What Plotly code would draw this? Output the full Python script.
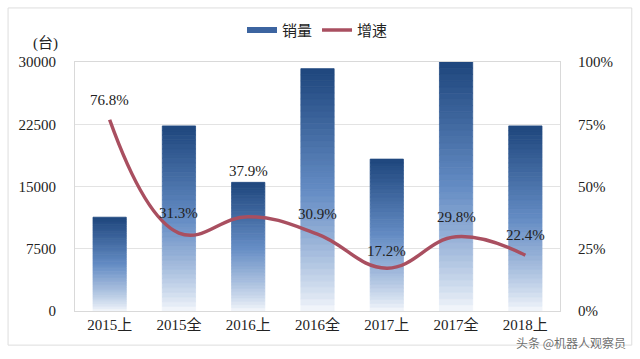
import plotly.graph_objects as go

categories = ["2015上", "2015全", "2016上", "2016全", "2017上", "2017全", "2018上"]
sales = [11300, 22300, 15500, 29200, 18300, 30000, 22300]
growth = [76.8, 31.3, 37.9, 30.9, 17.2, 29.8, 22.4]
left_ticks = [0, 7500, 15000, 22500, 30000]
left_tick_labels = ["0", "7500", "15000", "22500", "30000"]
right_ticks = [0, 25, 50, 75, 100]
right_tick_labels = ["0%", "25%", "50%", "75%", "100%"]

# style: vertical pixel offset of each growth label above its point
label_shift = [20, 20, 46, 20, 17, 20, 20]

FONT = "Liberation Serif, Times New Roman, Noto Sans CJK SC, serif"

fig = go.Figure()

# gradient bars: stack thin segments, dark at top -> light at bottom
N = 40
top_rgb = (30, 70, 125)
mid_rgb = (100, 140, 196)
bot_rgb = (248, 250, 253)


def seg_color(f):
    # f: 0 at bottom, 1 at top
    if f >= 0.5:
        t = (f - 0.5) / 0.5
        c = [mid_rgb[i] + (top_rgb[i] - mid_rgb[i]) * t for i in range(3)]
    else:
        t = f / 0.5
        t = t ** 0.8
        c = [bot_rgb[i] + (mid_rgb[i] - bot_rgb[i]) * t for i in range(3)]
    return "rgb(%d,%d,%d)" % tuple(int(round(x)) for x in c)


for k in range(N):
    col = seg_color((k + 0.5) / N)
    fig.add_trace(go.Bar(
        x=categories,
        y=[v / N for v in sales],
        base=[v * k / N for v in sales],
        marker=dict(color=col, line=dict(width=0.8, color=col)),
        width=0.48,
        showlegend=False,
        hoverinfo="skip",
    ))

# legend proxy for bars
fig.add_trace(go.Scatter(
    x=[None], y=[None], mode="lines", name="销量",
    line=dict(color="rgb(60,100,160)", width=6),
))

fig.add_trace(go.Scatter(
    x=categories, y=growth, yaxis="y2", mode="lines", name="增速",
    line=dict(color="#A94F60", width=3.5, shape="spline", smoothing=1.2),
))

annotations = [
    dict(x=c, y=g, xref="x", yref="y2", text=f"{g:.1f}%", showarrow=False,
         yshift=s, font=dict(family=FONT, size=15, color="#222"))
    for c, g, s in zip(categories, growth, label_shift)
]
annotations += [
    dict(text="(台)", xref="paper", yref="paper", x=-0.09, y=1.117,
         showarrow=False, font=dict(family=FONT, size=15)),
    dict(text="头条 @机器人观察员", xref="paper", yref="paper", x=1.14, y=-0.125,
         xanchor="right", yanchor="middle", showarrow=False,
         font=dict(family="Noto Sans CJK SC", size=12, color="rgba(60,60,60,0.75)")),
]

fig.update_layout(
    width=640, height=359,
    margin=dict(l=75, r=80, t=62, b=48, autoexpand=False),
    paper_bgcolor="white", plot_bgcolor="white",
    barmode="overlay",
    font=dict(family=FONT, size=15, color="#222"),
    legend=dict(orientation="h", x=0.5, xanchor="center", y=1.128, yanchor="middle",
                font=dict(family=FONT, size=15), itemwidth=30),
    xaxis=dict(showline=True, linecolor="#D9D9D9", mirror=True, ticks="",
               tickfont=dict(family=FONT, size=15)),
    yaxis=dict(range=[0, 30000], tickvals=left_ticks, ticktext=left_tick_labels,
               showgrid=True, gridcolor="#E3E3E3",
               showline=True, linecolor="#D9D9D9", zeroline=False, ticks="",
               tickfont=dict(family=FONT, size=15), ticklabelstandoff=15),
    yaxis2=dict(range=[0, 100], tickvals=right_ticks, ticktext=right_tick_labels,
                overlaying="y", side="right", showgrid=False, showline=True,
                linecolor="#D9D9D9", zeroline=False, ticks="",
                tickfont=dict(family=FONT, size=15), ticklabelstandoff=14),
    shapes=[dict(type="rect", xref="paper", yref="paper",
                 x0=-0.138, x1=1.148, y0=-0.137, y1=1.217,
                 line=dict(color="#DDDDDD", width=1), fillcolor="rgba(0,0,0,0)")],
    annotations=annotations,
)

fig.write_html("out.html", config={"displayModeBar": False},
               post_script="document.body.style.margin='0';")
